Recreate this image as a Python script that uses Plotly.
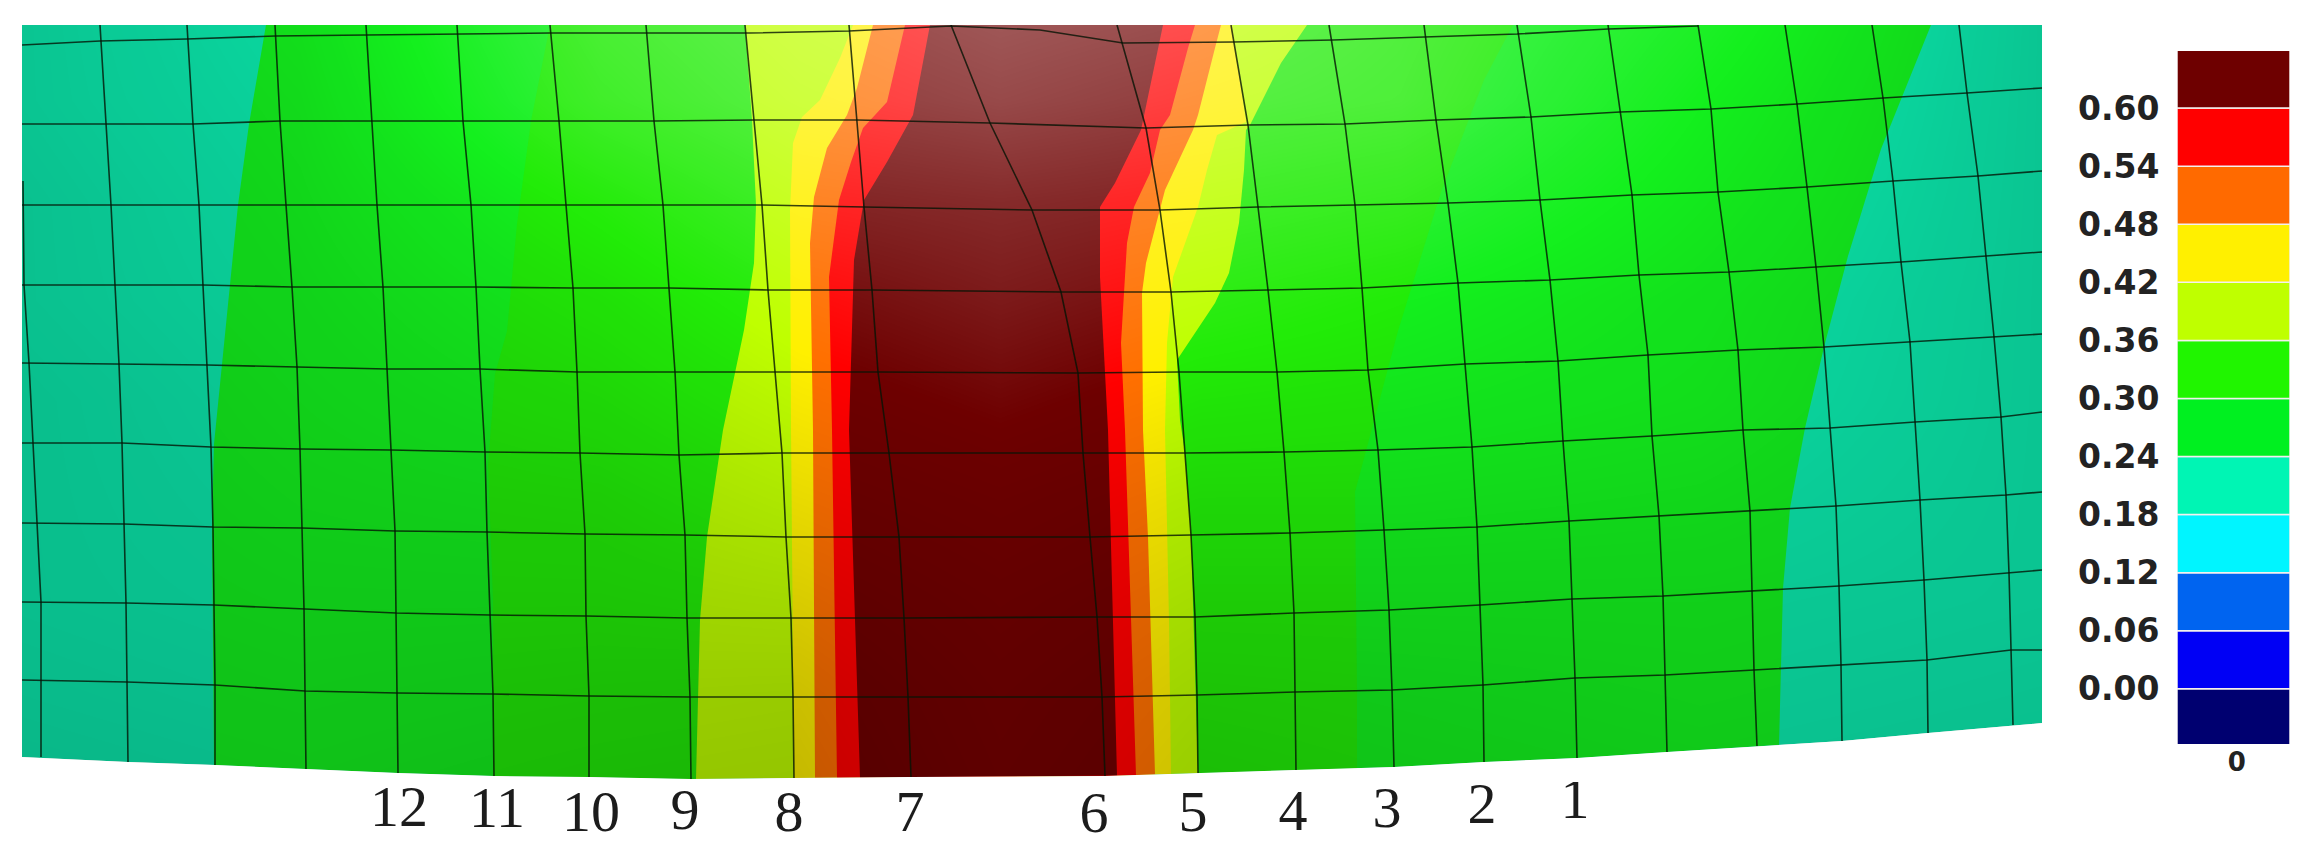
import numpy as np
import plotly.graph_objects as go

W, H = 2313, 862
PANEL_L, PANEL_R, PANEL_T = 22, 2042, 25
PANEL_B = 782

# ---- mesh: column lines, nodes from the top edge to the lower edge ----
mesh_x = [
    [100,106,111,115,119,122,124,126,127,128],
    [187,193,199,203,207,211,213,214,215,215],
    [275,280,286,292,297,300,302,304,305,306],
    [366,372,377,383,387,391,395,396,397,398],
    [457,463,471,476,480,485,487,490,493,494],
    [550,559,566,573,577,580,585,586,589,589],
    [646,654,663,669,675,679,685,687,690,691],
    [745,754,762,768,775,782,786,791,793,794],
    [849,857,864,872,878,889,899,904,908,911],
    [951,990,1032,1061,1078,1083,1090,1097,1102,1105],
    [1117,1146,1160,1171,1179,1185,1191,1195,1197,1198],
    [1231,1248,1258,1268,1277,1284,1290,1294,1295,1296],
    [1329,1345,1355,1362,1368,1378,1384,1389,1392,1394],
    [1424,1436,1448,1458,1465,1472,1477,1480,1483,1484],
    [1517,1531,1540,1550,1558,1563,1569,1572,1575,1577],
    [1608,1620,1632,1639,1648,1652,1659,1663,1665,1667],
    [1698,1711,1718,1729,1738,1743,1750,1752,1754,1757],
    [1785,1797,1807,1816,1824,1830,1836,1839,1841,1842],
    [1872,1883,1893,1901,1910,1915,1920,1924,1927,1928],
    [1959,1967,1978,1986,1994,2001,2006,2009,2011,2013],
]
mesh_y = [
    [25,124,205,285,364,443,524,603,682,762],
    [25,124,205,285,365,447,527,605,685,765],
    [25,121,205,287,367,449,528,609,691,769],
    [25,121,205,287,369,450,531,613,693,773],
    [25,121,205,287,369,452,532,615,694,776],
    [25,121,205,288,372,453,534,616,696,777],
    [25,121,205,288,372,455,535,618,697,779],
    [25,120,205,290,372,453,537,618,697,778],
    [25,120,207,290,372,453,537,618,697,777],
    [25,123,210,292,373,453,537,617,697,776],
    [25,128,210,292,372,453,535,617,695,773],
    [25,125,207,290,372,452,533,613,692,770],
    [25,124,205,288,370,450,530,610,690,767],
    [25,120,203,283,364,447,527,605,685,762],
    [25,117,200,280,361,441,521,599,678,758],
    [25,112,195,275,355,436,516,596,675,752],
    [25,109,192,272,350,430,511,591,670,746],
    [25,104,187,267,347,428,506,586,665,741],
    [25,98,181,262,342,422,500,580,660,733],
    [25,93,176,256,337,417,495,573,650,725],
]
edge_left_y = [124,205,285,363,443,523,602,680]
edge_right_y = [88,171,252,334,412,492,570,650]
first_col_x = [23,24,29,33,37,41,41,41]
first_col_y = [181,285,363,443,523,602,680,757]
first_row_x = [22,100,187,275,366,457,550,646,749,849,951,1040,1123,1233,1333,1424,1517,1608,1698]
first_row_y = [45,41,39,36,35,34,33,33,33,31,26,30,43,42,40,37,34,29,26]
lower_x = [22,41,128,215,306,398,494,589,691,794,911,1105,1198,1296,1394,1484,1577,1667,1757,1842,1928,2013,2042]
lower_y = [757,758,762,765,769,773,776,777,779,778,777,776,773,770,767,762,758,752,746,741,733,725,723]

# ---- contour bands: outer left/right limits of each level ----
panel_left_x, panel_left_y = [22,22], [25,757]
panel_right_x, panel_right_y = [2042,2042], [25,723]

g24_left_x = [266,249,238,230,222,214,212,214]
g24_left_y = [25,124,205,285,364,444,524,760]
g24_right_x = [1931,1881,1848,1824,1805,1790,1783,1779]
g24_right_y = [25,149,256,347,428,508,588,744]

g30_left_x = [550,531,517,507,495,488,493,493]
g30_left_y = [25,121,224,331,374,465,600,776]
g30_right_x = [1513,1484,1441,1398,1355,1357,1357]
g30_right_y = [25,80,192,331,492,693,767]

yg_left_x = [745,752,756,754,744,723,707,700,696]
yg_left_y = [25,120,205,263,330,430,537,620,777]
yg_right_x = [1307,1281,1250,1246,1244,1239,1229,1215,1177,1180,1185,1191,1198]
yg_right_y = [25,63,125,130,170,223,273,303,360,420,453,535,773]

yel_left_x = [853,840,820,802,793,790,791,794]
yel_left_y = [25,58,100,117,143,210,430,778]
yel_right_x = [1232,1246,1217,1207,1198,1173,1167,1165,1169,1171]
yel_right_y = [25,122,135,170,207,277,343,430,620,773]

org_left_x = [873,857,847,827,814,810,813,815]
org_left_y = [25,88,115,148,197,243,430,778]
org_right_x = [1221,1215,1198,1193,1165,1158,1146,1142,1143,1148,1155]
org_right_y = [25,48,115,130,190,217,263,293,430,537,773]

red_left_x = [905,887,863,851,839,829,832,837]
red_left_y = [25,102,128,162,200,277,430,778]
red_right_x = [1195,1188,1170,1160,1150,1134,1127,1121,1125,1136]
red_right_y = [25,48,115,130,173,207,243,343,430,773]

dark_left_x = [930,913,887,864,854,849,860]
dark_left_y = [25,115,162,200,260,430,778]
dark_right_x = [1163,1141,1115,1100,1100,1105,1108,1117]
dark_right_y = [25,130,183,207,277,377,430,773]

# ---- shading over the surface (-1 dark ... +1 light) ----
shade_x = [22,300,600,800,1000,1200,1400,1700,2042]
shade_y = [25,100,200,300,400,500,600,700,782]
shade_z = [
    [-.5,-.25,.45,.7,.85,.75,.55,.1,-.5],
    [-.5,-.3,.35,.6,.72,.6,.5,.0,-.5],
    [-.55,-.35,.05,.35,.42,.35,.25,-.1,-.5],
    [-.55,-.4,-.15,.1,.25,.12,.0,-.2,-.5],
    [-.6,-.45,-.3,-.1,.05,-.1,-.15,-.25,-.5],
    [-.6,-.5,-.45,-.3,-.15,-.3,-.3,-.35,-.5],
    [-.6,-.55,-.55,-.5,-.3,-.45,-.45,-.45,-.5],
    [-.65,-.6,-.65,-.68,-.4,-.58,-.55,-.5,-.55],
    [-.7,-.65,-.72,-.75,-.45,-.65,-.6,-.55,-.6],
]

# ---- legend ----
scale_edges = [-0.06,0.00,0.06,0.12,0.18,0.24,0.30,0.36,0.42,0.48,0.54,0.60]
scale_colors = ["#000070","#0000f5","#0064f0","#00f5ff","#00f5b4","#00f020",
                "#20f500","#bfff00","#fff000","#ff6a00","#ff0000","#6e0000"]
tick_vals = [0.00,0.06,0.12,0.18,0.24,0.30,0.36,0.42,0.48,0.54,0.60]
tick_text = ["0.00","0.06","0.12","0.18","0.24","0.30","0.36","0.42","0.48","0.54","0.60"]

# ---- numbered points under the surface ----
point_labels = ["12","11","10","9","8","7","6","5","4","3","2","1"]
point_x = [399,497,591,685,789,910,1094,1193,1293,1387,1482,1575]
point_y = [811,812,816,814,816,816,817,816,815,812,808,803]

levels = [
    (panel_left_x,panel_left_y,panel_right_x,panel_right_y,"#0ce8ac"),
    (g24_left_x,g24_left_y,g24_right_x,g24_right_y,"#14f01e"),
    (g30_left_x,g30_left_y,g30_right_x,g30_right_y,"#22ec08"),
    (yg_left_x,yg_left_y,yg_right_x,yg_right_y,"#bfff00"),
    (yel_left_x,yel_left_y,yel_right_x,yel_right_y,"#fff000"),
    (org_left_x,org_left_y,org_right_x,org_right_y,"#ff7000"),
    (red_left_x,red_left_y,red_right_x,red_right_y,"#ff0000"),
    (dark_left_x,dark_left_y,dark_right_x,dark_right_y,"#6e0000"),
]

def lower(x):
    return float(np.interp(x, lower_x, lower_y))

fig = go.Figure()

for lx, ly, rx, ry, col in levels:
    a, b = lx[-1], rx[-1]
    mid = [(x, y) for x, y in zip(lower_x, lower_y) if a < x < b]
    xs = list(lx) + [m[0] for m in mid] + list(rx[::-1])
    ys = list(ly[:-1]) + [lower(a)] + [m[1] for m in mid] + [lower(b)] + list(ry[:-1][::-1])
    fig.add_trace(go.Scatter(x=xs, y=ys, mode="lines", fill="toself", fillcolor=col,
                             line=dict(width=0), hoverinfo="skip", xaxis="x", yaxis="y"))

fig.add_trace(go.Scatter(x=point_x, y=point_y, mode="text", text=point_labels,
                         textposition="middle center",
                         textfont=dict(family="Liberation Serif", size=58, color="#1c1c1c"),
                         hoverinfo="skip", xaxis="x", yaxis="y"))

fig.add_trace(go.Heatmap(x=shade_x, y=shade_y, z=shade_z, zmin=-1, zmax=1, zsmooth="best",
                         showscale=False, hoverinfo="skip", xaxis="x2", yaxis="y2",
                         colorscale=[[0,"rgba(0,0,0,0.3)"],[0.5,"rgba(0,0,0,0)"],
                                     [0.5001,"rgba(255,255,255,0)"],[1,"rgba(255,255,255,0.4)"]]))

# white below the lower edge
fig.add_trace(go.Scatter(x=lower_x + [PANEL_R, PANEL_L], y=lower_y + [PANEL_B, PANEL_B],
                         mode="lines", fill="toself", fillcolor="white", line=dict(width=0),
                         hoverinfo="skip", xaxis="x2", yaxis="y2"))

line_col = "rgba(5,20,5,0.8)"
line_w = 1.6
lx, ly = [], []
for cx, cy in zip(mesh_x, mesh_y):
    lx += cx + [None]
    ly += cy + [None]
lx += first_col_x + [None]
ly += first_col_y + [None]
for i in range(8):
    lx += [PANEL_L] + [c[i + 1] for c in mesh_x] + [PANEL_R, None]
    ly += [edge_left_y[i]] + [c[i + 1] for c in mesh_y] + [edge_right_y[i], None]
lx += first_row_x
ly += first_row_y
fig.add_trace(go.Scatter(x=lx, y=ly, mode="lines", line=dict(color=line_col, width=line_w),
                         hoverinfo="skip", xaxis="x2", yaxis="y2"))

fig.add_trace(go.Bar(x=[0]*len(scale_colors), base=scale_edges,
                     y=[0.06]*12, width=1,
                     marker=dict(color=scale_colors, line=dict(color="#f4f0ee", width=1.5)),
                     hoverinfo="skip", xaxis="x3", yaxis="y3"))

hidden = dict(visible=False, showgrid=False, zeroline=False)
fig.update_layout(
    width=W, height=H, margin=dict(l=0, r=0, t=0, b=0), showlegend=False,
    paper_bgcolor="white", plot_bgcolor="rgba(0,0,0,0)", barmode="overlay",
    xaxis=dict(hidden, range=[0, W], domain=[0, 1]),
    yaxis=dict(hidden, range=[H, 0], domain=[0, 1]),
    xaxis2=dict(hidden, range=[PANEL_L, PANEL_R], domain=[PANEL_L / W, PANEL_R / W], anchor="y2"),
    yaxis2=dict(hidden, range=[PANEL_B, PANEL_T], domain=[1 - PANEL_B / H, 1 - PANEL_T / H], anchor="x2"),
    xaxis3=dict(range=[-0.5, 0.5], domain=[2177 / W, 2290 / W], anchor="y3",
                showgrid=False, zeroline=False, showline=False, tickmode="array",
                tickvals=[0.03], ticktext=["0"], ticks="", ticklen=0,
                tickfont=dict(family="DejaVu Sans", size=26, color="#222222", weight="bold")),
    yaxis3=dict(range=[-0.057, 0.659], domain=[1 - 744 / H, 1 - 51 / H], anchor="x3",
                showgrid=False, zeroline=False, showline=False, tickmode="array",
                tickvals=tick_vals, ticktext=tick_text, ticks="outside", ticklen=10,
                tickcolor="rgba(0,0,0,0)",
                tickfont=dict(family="DejaVu Sans", size=33, color="#222222", weight="bold")),
)
fig.write_html("out.html", config={"displayModeBar": False},
               post_script="document.body.style.margin='0';")
